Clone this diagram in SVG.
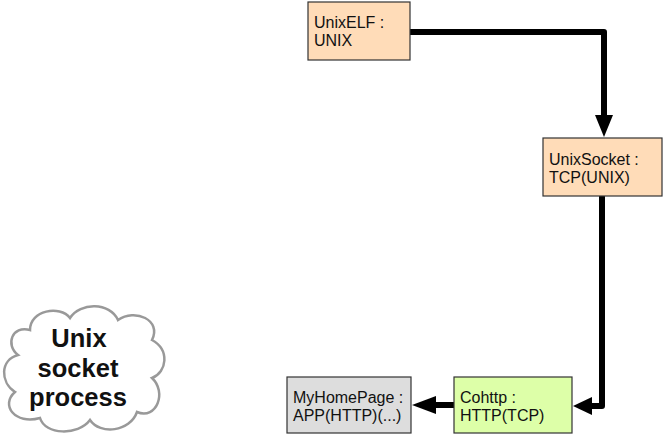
<svg xmlns="http://www.w3.org/2000/svg" width="663" height="437" viewBox="0 0 663 437">
<style>
.box{stroke:#333;stroke-width:1.2}
.peach{fill:#ffdcb8}
.green{fill:#ddffa8}
.gray{fill:#dddddd}
.lbl{font-family:"Liberation Sans",Arial,sans-serif;font-size:16px;fill:#111}
.conn{fill:none;stroke:#000;stroke-width:6;stroke-linejoin:round}
.head{fill:#000}
.cloudtxt{font-family:"Liberation Sans",Arial,sans-serif;font-size:25.5px;font-weight:bold;fill:#111;text-anchor:middle}
</style>
<g id="connectors">
<circle cx="410" cy="32" r="3"/>
<path class="conn" d="M410,32 H604 V117"/>
<polygon class="head" points="595,115 613,115 604,137"/>
<circle cx="602" cy="197" r="3"/>
<path class="conn" d="M602,197 V406 H591"/>
<polygon class="head" points="592,397 592,415 573,406"/>
<circle cx="454" cy="405" r="3"/>
<path class="conn" d="M454,405 H435"/>
<polygon class="head" points="436,396 436,414 412,405"/>
</g>
<g id="UnixELF">
<rect class="box peach" x="308" y="2" width="102" height="58"/>
<text class="lbl" x="314" y="28">UnixELF :</text>
<text class="lbl" x="314" y="46">UNIX</text>
</g>
<g id="UnixSocket">
<rect class="box peach" x="543" y="138" width="119" height="58"/>
<text class="lbl" x="549" y="165">UnixSocket :</text>
<text class="lbl" x="549" y="183">TCP(UNIX)</text>
</g>
<g id="Cohttp">
<rect class="box green" x="454" y="377" width="118" height="56"/>
<text class="lbl" x="460" y="403">Cohttp :</text>
<text class="lbl" x="460" y="421">HTTP(TCP)</text>
</g>
<g id="MyHomePage">
<rect class="box gray" x="287" y="377" width="124" height="56"/>
<text class="lbl" x="293" y="403">MyHomePage :</text>
<text class="lbl" x="293" y="421">APP(HTTP)(...)</text>
</g>
<g id="cloud">
<path d="M30,330 C30,310 60,305 70,318 C80,302 110,302 118,320 C135,308 162,320 152,340 C170,350 167,372 152,378 C167,392 157,420 137,412 C130,432 100,435 90,420 C78,436 45,435 40,418 C15,425 0,405 15,392 C0,382 0,360 18,355 C5,345 12,325 30,330 Z" fill="#fff" stroke="#999" stroke-width="2.5"/>
<text class="cloudtxt" x="79" y="347">Unix</text>
<text class="cloudtxt" x="78" y="377">socket</text>
<text class="cloudtxt" x="78" y="406">process</text>
</g>
</svg>
